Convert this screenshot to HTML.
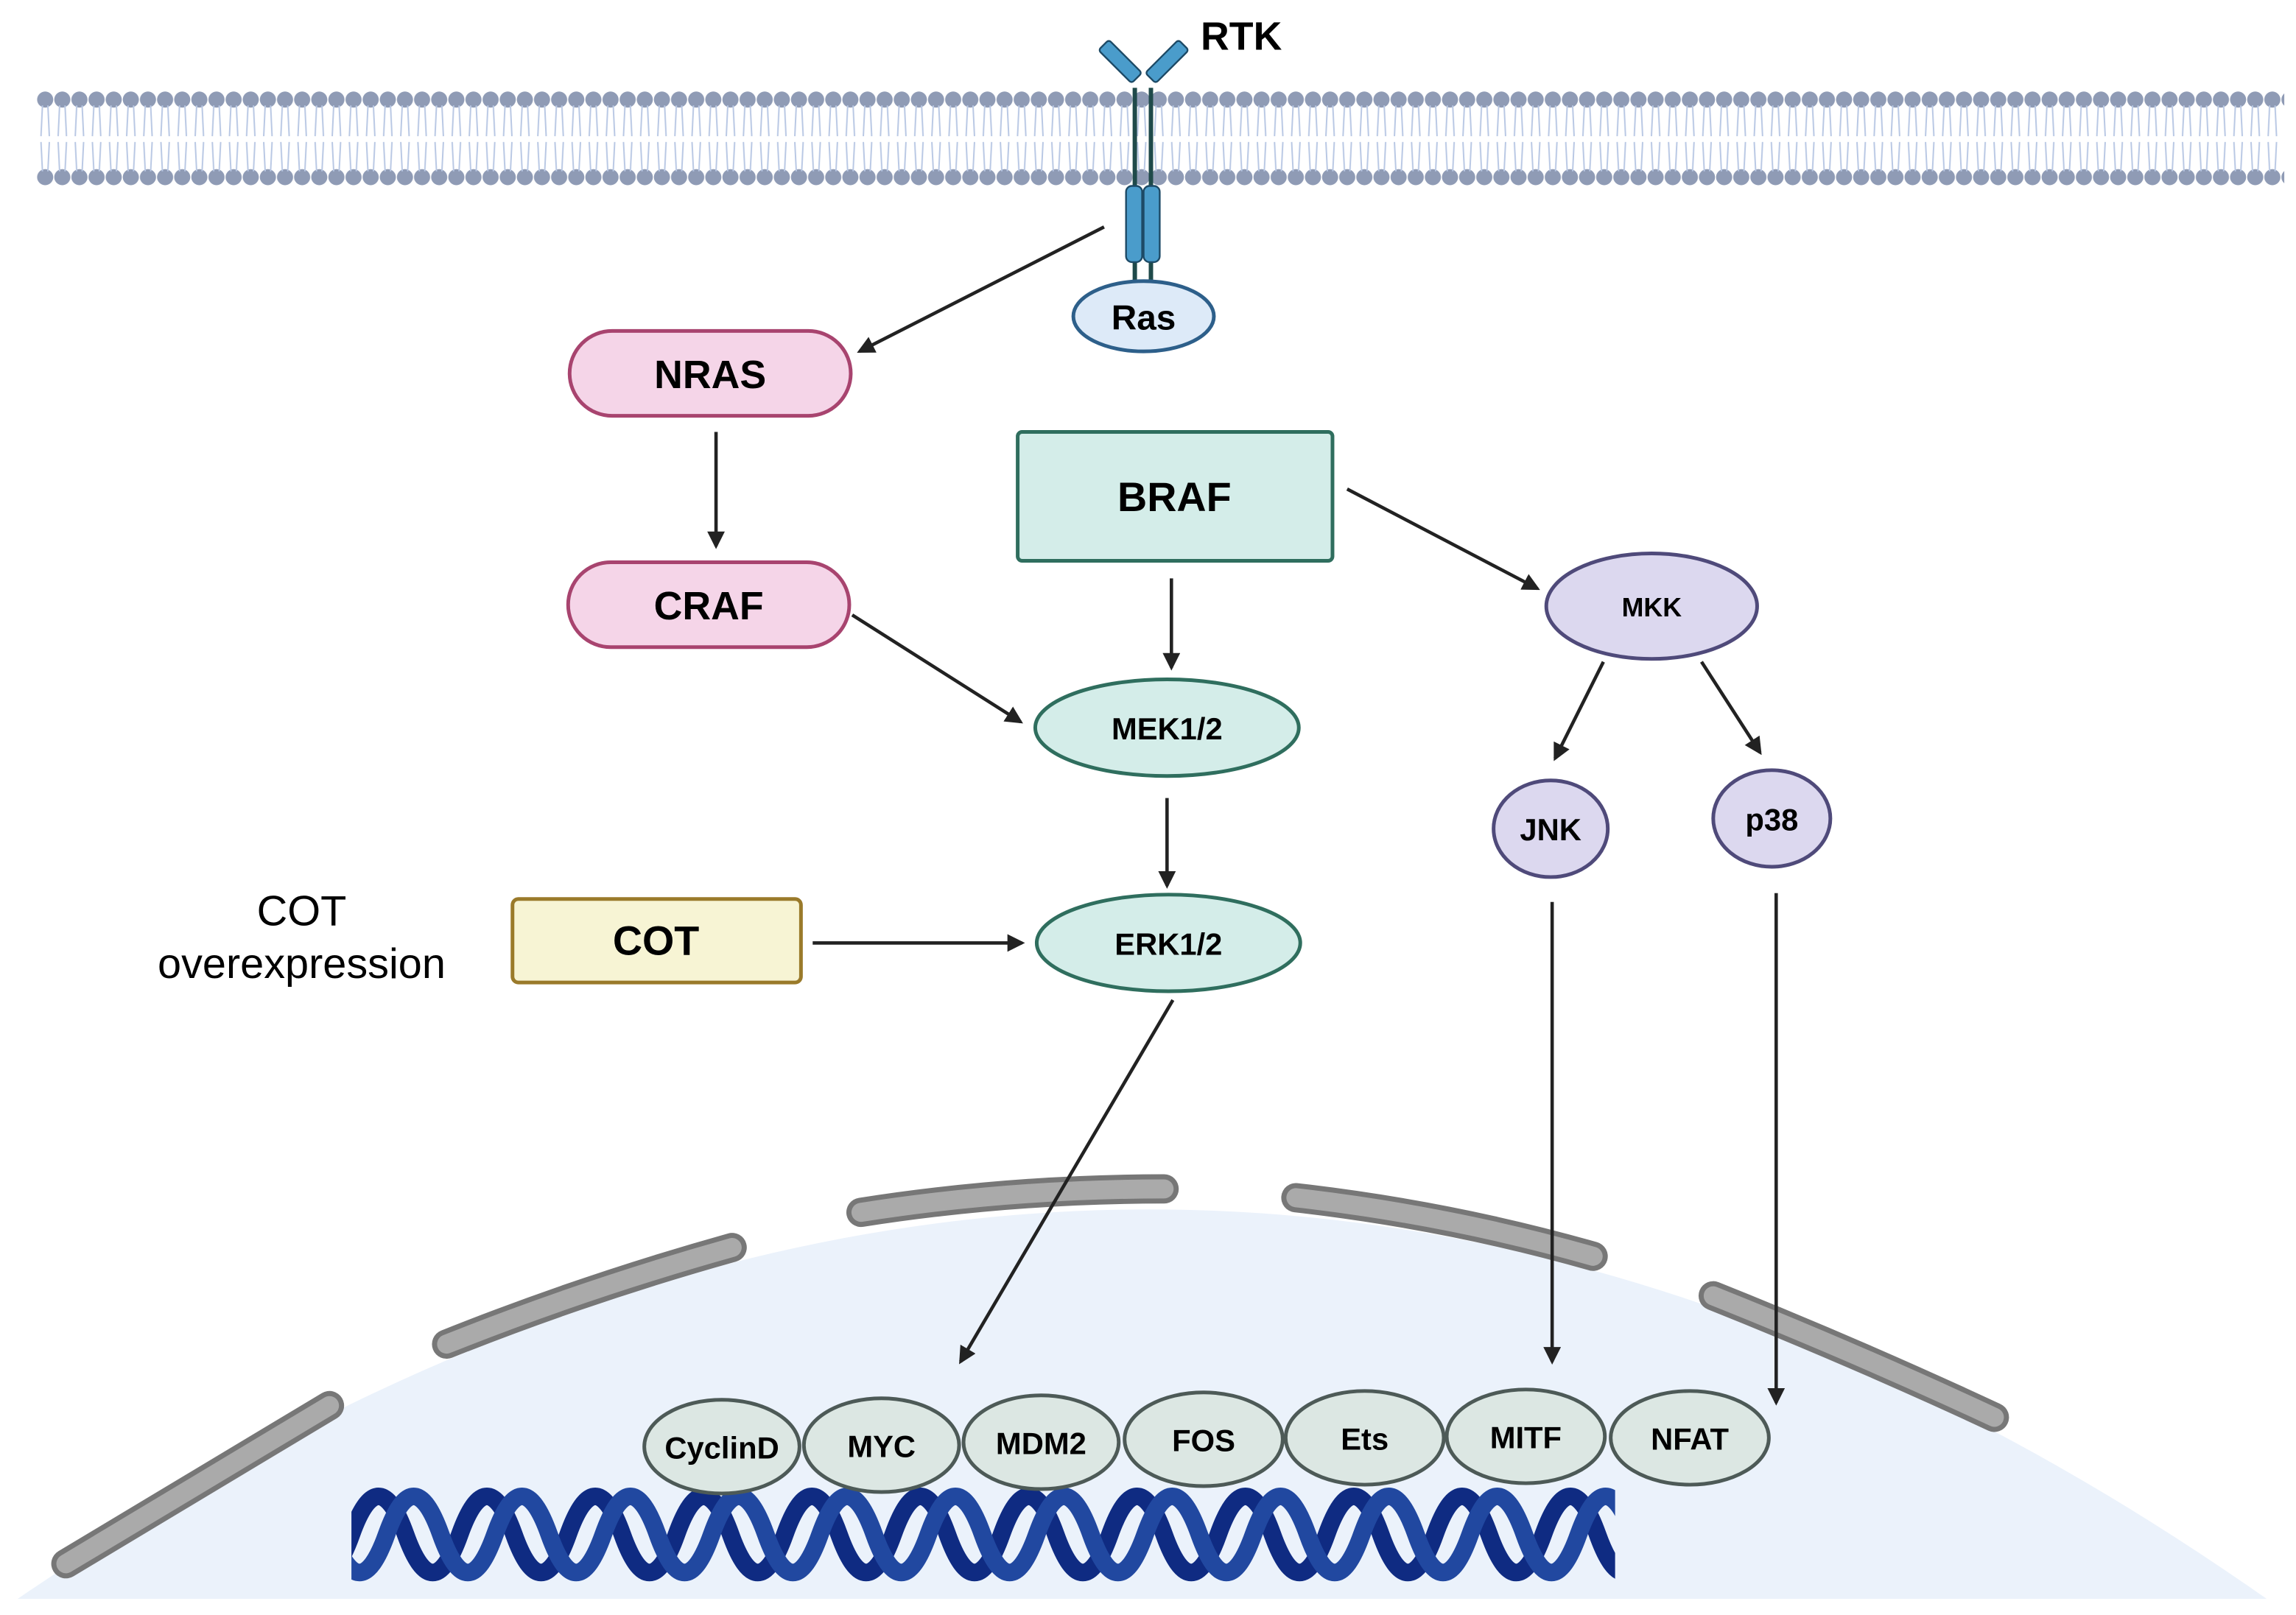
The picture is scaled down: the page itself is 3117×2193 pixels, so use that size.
<!DOCTYPE html>
<html><head><meta charset="utf-8"><style>html,body{margin:0;padding:0;background:#fff}svg{display:block}</style></head><body>
<svg width="3117" height="2193" viewBox="0 0 1568 1103" preserveAspectRatio="none" xmlns="http://www.w3.org/2000/svg" font-family="Liberation Sans, sans-serif">
<defs>
<pattern id="lip" x="25" y="0" width="11.7" height="1103" patternUnits="userSpaceOnUse">
<circle cx="5.85" cy="68" r="5.5" fill="#8f9bb5"/>
<circle cx="5.85" cy="121" r="5.5" fill="#8f9bb5"/>
<path d="M4 72 L3 93 M7.7 72 L8.7 93 M3 97 L4 117 M8.7 97 L7.7 117" stroke="#b9c8e4" stroke-width="1" fill="none"/>
</pattern>
<marker id="ah" markerWidth="12" markerHeight="12" refX="10" refY="6" orient="auto" markerUnits="userSpaceOnUse"><path d="M0 0 L12 6 L0 12 Z" fill="#222"/></marker>
<clipPath id="dc"><rect x="240" y="1010" width="863" height="80"/></clipPath>
</defs>
<rect x="25" y="60" width="1535" height="70" fill="url(#lip)"/>
<path d="M12 1092 Q 790 560 1548 1092 Z" fill="#ebf2fb"/>
<g stroke-linecap="round" fill="none">
<g stroke="#777" stroke-width="20">
<path d="M45 1068 L225 960"/><path d="M305 918 Q400 880 500 852"/><path d="M588 828 Q690 812 795 812"/><path d="M885 818 Q990 830 1088 858"/><path d="M1170 885 Q1270 925 1362 968"/></g>
<g stroke="#aaa" stroke-width="13">
<path d="M45 1068 L225 960"/><path d="M305 918 Q400 880 500 852"/><path d="M588 828 Q690 812 795 812"/><path d="M885 818 Q990 830 1088 858"/><path d="M1170 885 Q1270 925 1362 968"/></g>
</g>
<g clip-path="url(#dc)" fill="none" stroke-width="12">
<path d="M166 1048 q18.5 -52 37 0 t37 0 t37 0 t37 0 t37 0 t37 0 t37 0 t37 0 t37 0 t37 0 t37 0 t37 0 t37 0 t37 0 t37 0 t37 0 t37 0 t37 0 t37 0 t37 0 t37 0 t37 0 t37 0 t37 0 t37 0 t37 0 t37 0" stroke="#0f2b82"/>
<path d="M190 1048 q18.5 -52 37 0 t37 0 t37 0 t37 0 t37 0 t37 0 t37 0 t37 0 t37 0 t37 0 t37 0 t37 0 t37 0 t37 0 t37 0 t37 0 t37 0 t37 0 t37 0 t37 0 t37 0 t37 0 t37 0 t37 0 t37 0 t37 0 t37 0" stroke="#2148a0"/>
</g>
<g stroke="#1f4a4a" stroke-width="3"><line x1="775" y1="60" x2="775" y2="192"/><line x1="786" y1="60" x2="786" y2="192"/></g>
<g fill="#4a9ccb" stroke="#1d4a66" stroke-width="1.2">
<rect x="-5" y="-16" width="10" height="32" rx="2" transform="translate(765,42) rotate(-45)"/>
<rect x="-5" y="-16" width="10" height="32" rx="2" transform="translate(797,42) rotate(45)"/>
<rect x="769" y="127" width="11" height="52" rx="4"/><rect x="781" y="127" width="11" height="52" rx="4"/>
</g>
<text x="820" y="34" font-size="27" font-weight="bold">RTK</text>
<ellipse cx="781" cy="216" rx="48" ry="24" fill="#ddeaf8" stroke="#2d5f8a" stroke-width="2.5"/>
<text x="781" y="225" font-size="24" font-weight="bold" text-anchor="middle">Ras</text>
<g stroke-width="2.5" font-weight="bold" text-anchor="middle">
<rect x="389" y="226" width="192" height="58" rx="29" fill="#f5d5e8" stroke="#a8446f"/>
<text x="485" y="265" font-size="27" stroke="none">NRAS</text>
<rect x="388" y="384" width="192" height="58" rx="29" fill="#f5d5e8" stroke="#a8446f"/>
<text x="484" y="423" font-size="27" stroke="none">CRAF</text>
<rect x="695" y="295" width="215" height="88" rx="3" fill="#d4ede9" stroke="#2f6e5e"/>
<text x="802" y="349" font-size="28" stroke="none">BRAF</text>
<ellipse cx="1128" cy="414" rx="72" ry="36" fill="#dcd8ef" stroke="#4f4a7a"/>
<text x="1128" y="421" font-size="18" stroke="none">MKK</text>
<ellipse cx="797" cy="497" rx="90" ry="33" fill="#d4ede9" stroke="#2f6e5e"/>
<text x="797" y="505" font-size="21" stroke="none">MEK1/2</text>
<ellipse cx="798" cy="644" rx="90" ry="33" fill="#d4ede9" stroke="#2f6e5e"/>
<text x="798" y="652" font-size="21" stroke="none">ERK1/2</text>
<ellipse cx="1059" cy="566" rx="39" ry="33" fill="#dcd8ef" stroke="#4f4a7a"/>
<text x="1059" y="574" font-size="21" stroke="none">JNK</text>
<ellipse cx="1210" cy="559" rx="40" ry="33" fill="#dcd8ef" stroke="#4f4a7a"/>
<text x="1210" y="567" font-size="21" stroke="none">p38</text>
<rect x="350" y="614" width="197" height="57" rx="4" fill="#f7f4d4" stroke="#9a7a2a"/>
<text x="448" y="652" font-size="28" stroke="none">COT</text>
</g>
<text x="206" y="632" font-size="29" text-anchor="middle">COT</text>
<text x="206" y="668" font-size="29" text-anchor="middle">overexpression</text>
<g fill="#dce7e3" stroke="#4d5a57" stroke-width="2.5">
<ellipse cx="493" cy="988" rx="53" ry="32"/><ellipse cx="602" cy="987" rx="53" ry="32"/><ellipse cx="711" cy="985" rx="53" ry="32"/><ellipse cx="822" cy="983" rx="54" ry="32"/><ellipse cx="932" cy="982" rx="54" ry="32"/><ellipse cx="1042" cy="981" rx="54" ry="32"/><ellipse cx="1154" cy="982" rx="54" ry="32"/>
</g>
<g font-size="21" font-weight="bold" text-anchor="middle">
<text x="493" y="996">CyclinD</text><text x="602" y="995">MYC</text><text x="711" y="993">MDM2</text><text x="822" y="991">FOS</text><text x="932" y="990">Ets</text><text x="1042" y="989">MITF</text><text x="1154" y="990">NFAT</text>
</g>
<g stroke="#222" stroke-width="2.3" marker-end="url(#ah)">
<line x1="754" y1="155" x2="587" y2="240"/>
<line x1="489" y1="295" x2="489" y2="373"/>
<line x1="582" y1="420" x2="697" y2="493"/>
<line x1="800" y1="395" x2="800" y2="456"/>
<line x1="920" y1="334" x2="1050" y2="402"/>
<line x1="797" y1="545" x2="797" y2="605"/>
<line x1="555" y1="644" x2="698" y2="644"/>
<line x1="1095" y1="452" x2="1062" y2="518"/>
<line x1="1162" y1="452" x2="1202" y2="514"/>
<line x1="801" y1="683" x2="656" y2="930"/>
<line x1="1060" y1="616" x2="1060" y2="930"/>
<line x1="1213" y1="610" x2="1213" y2="958"/>
</g>
</svg>
</body></html>
